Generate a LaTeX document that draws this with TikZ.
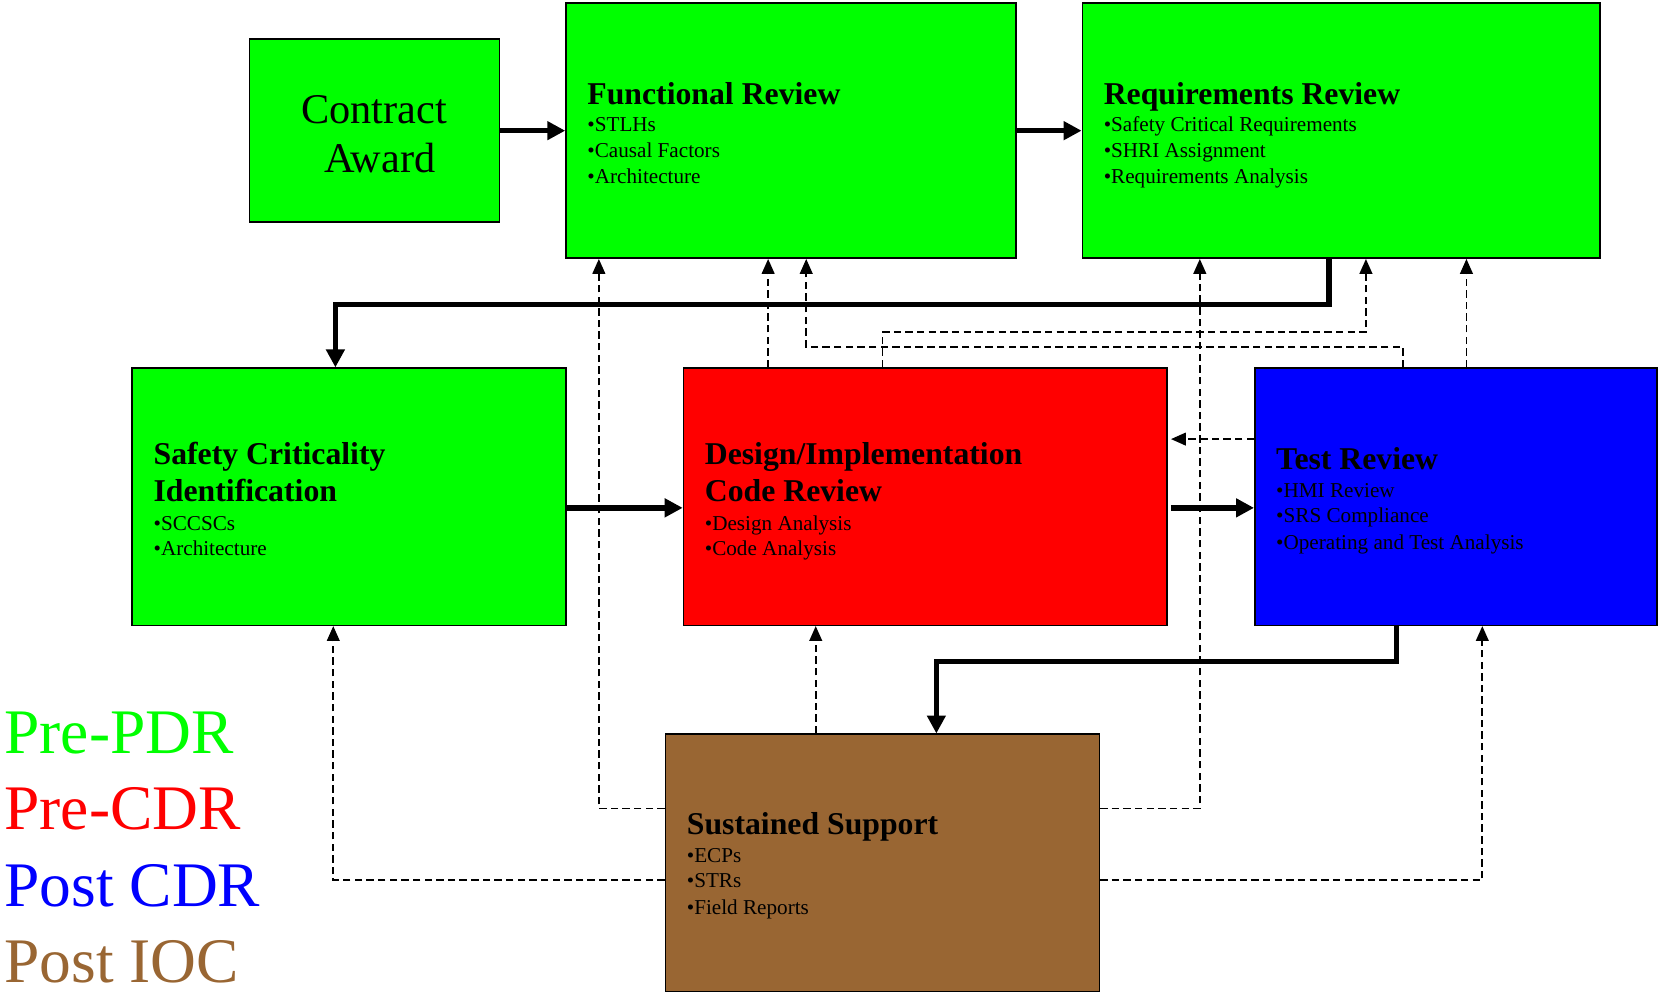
\documentclass[tikz,border=0pt]{standalone}
\usepackage{fontspec}
\setmainfont{Liberation Serif}
\usetikzlibrary{arrows.meta,calc}
\definecolor{phaseGreen}{HTML}{00FF00}
\definecolor{phaseRed}{HTML}{FF0000}
\definecolor{phaseBlue}{HTML}{0000FF}
\definecolor{phaseBrown}{HTML}{996633}
\begin{document}
\begin{tikzpicture}[x=1pt,y=-1pt,
  stage/.style={draw=black,line width=1.5pt,inner sep=0pt,rectangle},
  flow/.style={line width=5pt,-{Triangle[length=17pt,width=17pt]}},
  feedback/.style={line width=1.6pt,dash pattern=on 7pt off 4pt,-{Triangle[length=14pt,width=12pt]}},
  ttl/.style={anchor=base west,inner sep=0pt,font=\fontsize{30}{36}\selectfont\bfseries},
  itm/.style={anchor=base west,inner sep=0pt,font=\fontsize{20}{24}\selectfont},
  phase/.style={anchor=base west,inner sep=0pt,font=\fontsize{60}{72}\selectfont}]
\useasboundingbox (0,0) rectangle (1568,939);

% stage boxes
\node[stage,fill=phaseGreen,minimum width=236pt,minimum height=173pt] (ca) at (354,123.5) {};
\node[stage,fill=phaseGreen,minimum width=425pt,minimum height=241pt] (fr) at (747.5,123.5) {};
\node[stage,fill=phaseGreen,minimum width=489pt,minimum height=241pt] (rr) at (1267.5,123.5) {};
\node[stage,fill=phaseGreen,minimum width=410pt,minimum height=243pt] (sc) at (330,469.5) {};
\node[stage,fill=phaseRed,minimum width=457pt,minimum height=243pt] (di) at (874.5,469.5) {};
\node[stage,fill=phaseBlue,minimum width=380pt,minimum height=243pt] (tr) at (1376,469.5) {};
\node[stage,fill=phaseBrown,minimum width=410pt,minimum height=243pt] (ss) at (834,815.5) {};

% box texts
\node[anchor=base,inner sep=0pt,font=\fontsize{40}{48}\selectfont] (ca1) at (353.5,117) {Contract};
\node[anchor=base,inner sep=0pt,font=\fontsize{40}{48}\selectfont] (ca2) at (359,163) {Award};

\node[ttl] (fr0) at (555,99) {Functional Review};
\node[itm] (fr1) at (555,124) {•STLHs};
\node[itm] (fr2) at (555,148.5) {•Causal Factors};
\node[itm] (fr3) at (555,173) {•Architecture};

\node[ttl] (rr0) at (1043,99) {Requirements Review};
\node[itm] (rr1) at (1043,124) {•Safety Critical Requirements};
\node[itm] (rr2) at (1043,148.5) {•SHRI Assignment};
\node[itm] (rr3) at (1043,173) {•Requirements Analysis};

\node[ttl] (sc0) at (145,439) {Safety Criticality};
\node[ttl] (sc1) at (145,474) {Identification};
\node[itm] (sc2) at (145,501) {•SCCSCs};
\node[itm] (sc3) at (145,525) {•Architecture};

\node[ttl] (di0) at (666,439) {Design/Implementation};
\node[ttl] (di1) at (666,474) {Code Review};
\node[itm] (di2) at (666,501) {•Design Analysis};
\node[itm] (di3) at (666,525) {•Code Analysis};

\node[ttl] (tr0) at (1206,444) {Test Review};
\node[itm] (tr1) at (1206,470) {•HMI Review};
\node[itm] (tr2) at (1206,494) {•SRS Compliance};
\node[itm] (tr3) at (1206,519) {•Operating and Test Analysis};

\node[ttl] (ss0) at (649,789) {Sustained Support};
\node[itm] (ss1) at (649,815) {•ECPs};
\node[itm] (ss2) at (649,839) {•STRs};
\node[itm] (ss3) at (649,864) {•Field Reports};

% phase legend
\node[phase,text=phaseGreen] (lg1) at (4,712) {Pre-PDR};
\node[phase,text=phaseRed] (lg2) at (4,784) {Pre-CDR};
\node[phase,text=phaseBlue] (lg3) at (4,857) {Post CDR};
\node[phase,text=phaseBrown] (lg4) at (4,929) {Post IOC};

% feedback paths (dashed)
\draw[feedback] (di.north -| 726,0) -- (fr.south -| 726,0);
\draw[feedback] (di.north -| 834,0) |- (1291,314) -- (rr.south -| 1291,0);
\draw[feedback] (tr.north -| 1326,0) |- (762,328) -- (fr.south -| 762,0);
\draw[feedback] (tr.north -| 1386,0) -- (rr.south -| 1386,0);
\draw[feedback] (tr.west |- 0,415) -- ($(di.east |- 0,415)+(3,0)$);
\draw[feedback] (ss.west |- 0,764) -| (fr.south -| 566,0);
\draw[feedback] (ss.east |- 0,764) -| (rr.south -| 1134,0);
\draw[feedback] (ss.west |- 0,832) -| (sc.south -| 315,0);
\draw[feedback] (ss.east |- 0,832) -| (tr.south -| 1401,0);
\draw[feedback] (ss.north -| 771,0) -- (di.south -| 771,0);

% main flow (thick)
\draw[flow] (ca.east) -- (fr.west);
\draw[flow] (fr.east) -- (rr.west);
\draw[flow] (rr.south -| 1256,0) -- (1256,288) -| (sc.north -| 317,0);
\draw[flow] (sc.east |- 0,480) -- (di.west |- 0,480);
\draw[flow] ($(di.east |- 0,480)+(3,0)$) -- (tr.west |- 0,480);
\draw[flow] (tr.south -| 1320,0) -- (1320,625) -| (ss.north -| 885,0);
\end{tikzpicture}
\end{document}
